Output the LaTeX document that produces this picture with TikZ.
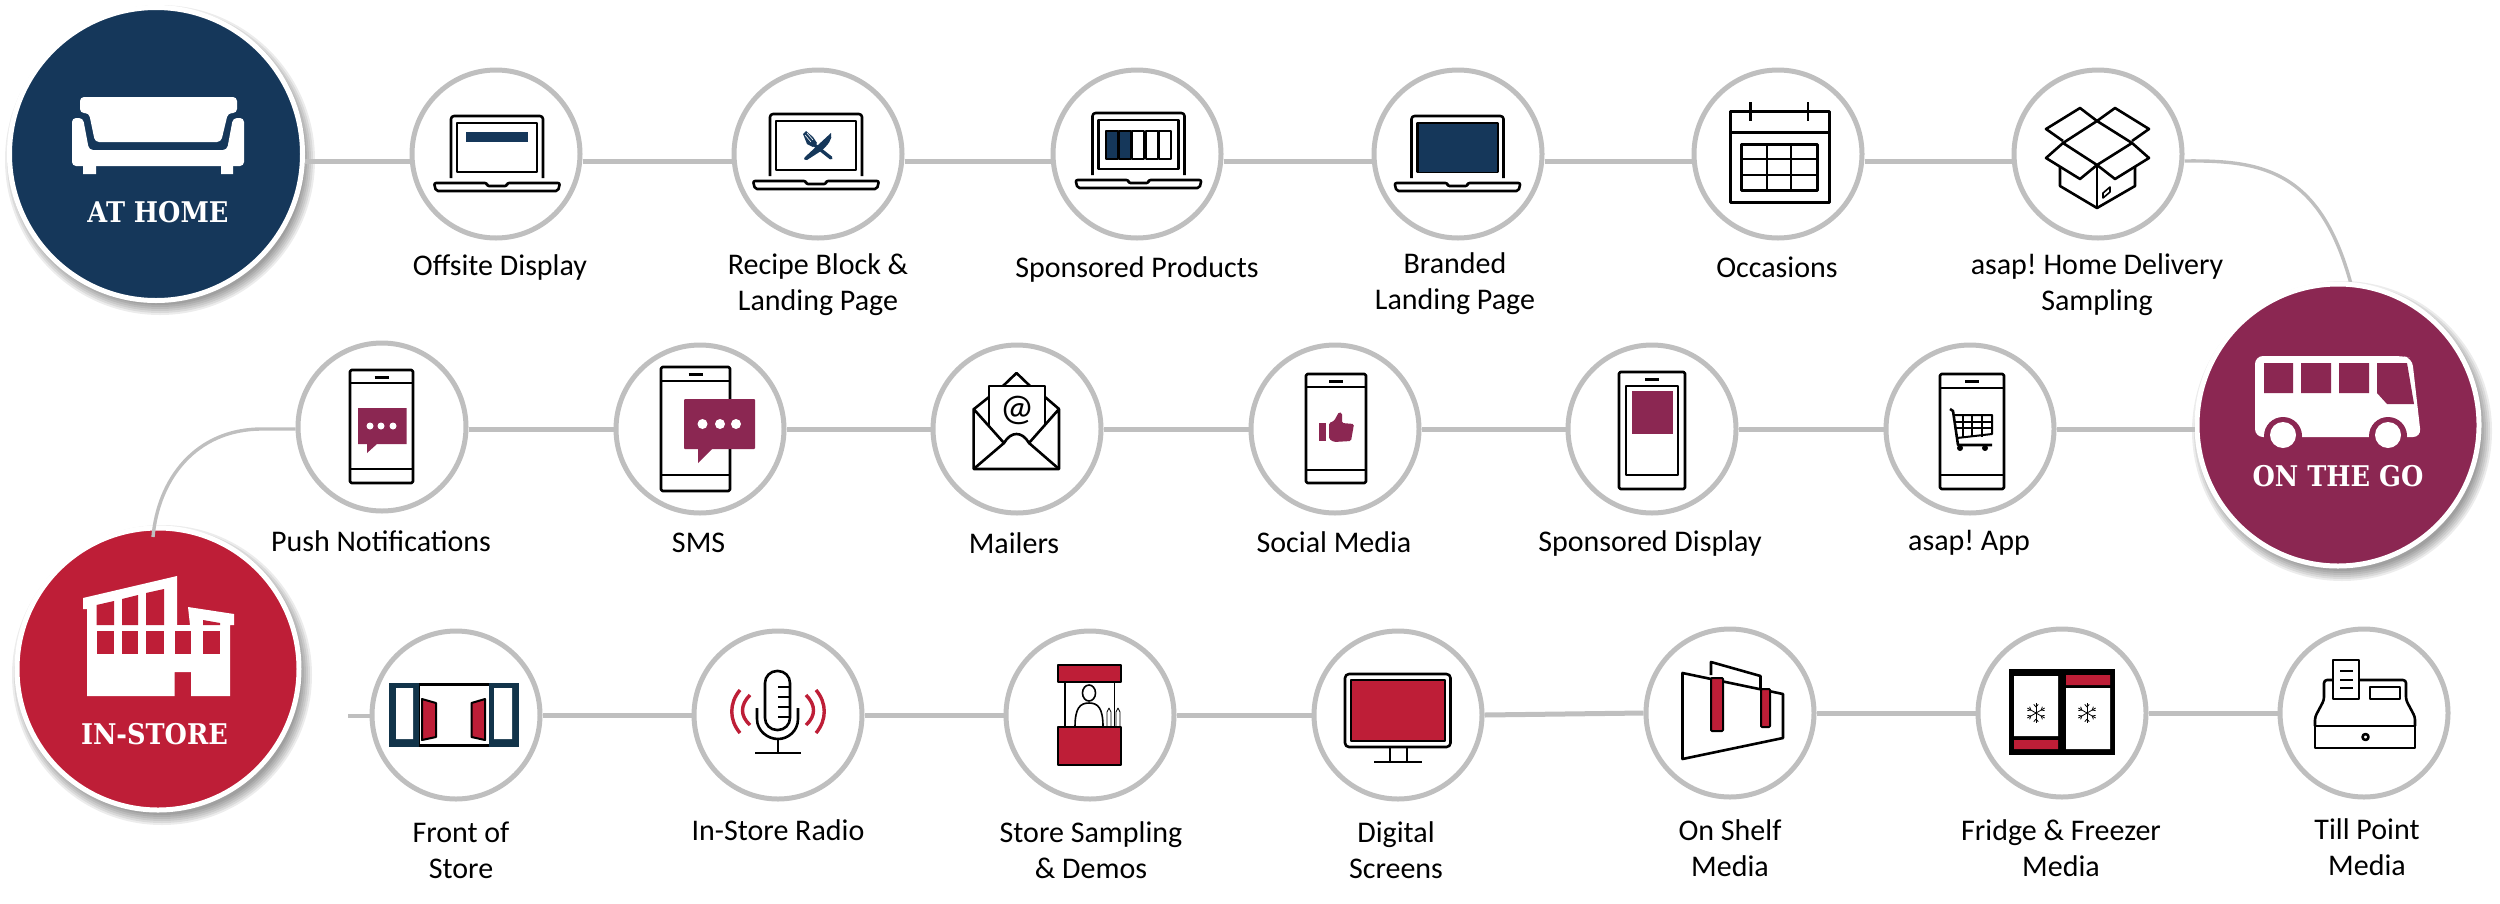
\documentclass[tikz,border=0pt]{standalone}
\usepackage{fontspec}
\setmainfont{Carlito}
\newfontfamily\slabfont[FakeStretch=0.9]{DejaVu Serif}
\definecolor{navyblue}{HTML}{15375A}
\definecolor{plum}{HTML}{8B2752}
\definecolor{shopred}{HTML}{BE1E37}
\definecolor{doorblue}{HTML}{12344A}
\definecolor{ringgrey}{HTML}{BFBFBF}
\tikzset{
 spot/.style={circle,draw=ringgrey,fill=white,line width=5pt,minimum size=168pt,inner sep=0pt},
 hub/.style={circle,draw=white,line width=5pt,minimum size=282pt,inner sep=0pt},
 link/.style={draw=ringgrey,line width=5pt},
 thinlink/.style={draw=ringgrey,line width=3.4pt},
 caption/.style={align=center,inner sep=0pt,font=\frenchspacing\fontsize{30}{36}\selectfont},
 hubtext/.style={text=white,inner sep=0pt,font=\slabfont\bfseries\fontsize{28.5}{30}\selectfont},
 iconline/.style={line width=2.6pt,line join=round},
}
\newcommand{\laptop}[3]{
\begin{scope}[shift={(#1,#2)},iconline]
\draw[rounded corners=3pt] (-46,62)--(-46,0)--(46,0)--(46,62);
\draw (-40,7) rectangle (40,56);
\draw[rounded corners=2pt] (-63,67)--(-10,67)--(-10,70)--(10,70)--(10,67)--(63,67)--(61,75)--(-61,75)--cycle;
#3
\end{scope}}
\newcommand{\handset}[6]{
\begin{scope}[shift={(#1,#2)},iconline]
\draw[rounded corners=1.5pt] (-#3,0) rectangle (#3,#4);
\draw (-#3,#5)--(#3,#5);\draw (-#3,#6)--(#3,#6);
\draw[line width=3pt] (-7,7)--(7,7);
\end{scope}}
\newcommand{\flake}[2]{
\begin{scope}[shift={(#1,#2)},line width=.8pt]
\foreach \a in {30,90,...,330}{
 \draw (0,0)--(\a:10);
 \draw (\a:6)--++(\a+40:3.5);\draw (\a:6)--++(\a-40:3.5);
}
\end{scope}}
\newcommand{\hubshadow}[3]{
\foreach \d in {0,2,...,10} \fill[black,opacity=.075] (#1+4,#2+6) circle (#3-3+\d);}
\begin{document}
\begin{tikzpicture}[x=1pt,y=-1pt]
\useasboundingbox (0,0) rectangle (2500,903);
\hubshadow{156}{154}{148}
\hubshadow{2338}{425}{143}
\hubshadow{158}{669}{143}
\node[spot] (offsite) at (496,154) {};
\node[spot] (recipe) at (818,154) {};
\node[spot] (products) at (1137,154) {};
\node[spot] (branded) at (1458,154) {};
\node[spot] (occasions) at (1778,154) {};
\node[spot] (delivery) at (2098,154) {};
\node[spot] (push) at (382,427) {};
\node[spot] (sms) at (700,429) {};
\node[spot] (mailers) at (1017,429) {};
\node[spot] (social) at (1335,429) {};
\node[spot] (display) at (1652,429) {};
\node[spot] (app) at (1970,429) {};
\node[spot] (front) at (456,715) {};
\node[spot] (radio) at (778,715) {};
\node[spot] (sampling) at (1090,715) {};
\node[spot] (screens) at (1398,715) {};
\node[spot] (shelf) at (1730,713) {};
\node[spot] (fridge) at (2062,713) {};
\node[spot] (till) at (2364,713) {};
\coordinate (stub) at (348,716);
\coordinate (curveA) at (2351,284);
\foreach \a/\b in {offsite/recipe,recipe/products,products/branded,branded/occasions,occasions/delivery}
 \draw[link] ([yshift=-7pt]\a.east)--([yshift=-7pt]\b.west);
\foreach \a/\b in {sms/mailers,mailers/social,social/display,display/app}
 \draw[link] (\a.east)--(\b.west);
\draw[link] ([yshift=-2pt]push.east)--(sms.west);
\foreach \a/\b in {front/radio,radio/sampling,sampling/screens,screens/shelf,shelf/fridge,fridge/till}
 \draw[link] (\a.east)--(\b.west);
\draw[link,line width=4pt] (stub)--(front.west |- stub);
\draw[thinlink] ([yshift=-7pt]delivery.east) .. controls (2262,160) and (2320,170) .. (curveA);
\node[hub,fill=navyblue,minimum size=293pt] (athome) at (156,154) {};
\node[hub,fill=plum] (onthego) at (2338,425) {};
\node[hub,fill=shopred] (instore) at (158,669) {};
\draw[link] ([yshift=-7pt]athome.east)--([yshift=-7pt]offsite.west);
\draw[link] (app.east)--([yshift=-4pt]onthego.west);
\draw[thinlink] ([yshift=-2pt]push.west) -- (262,429) .. controls (195,429) and (158,480) .. (153,537);
% hub pictures
\fill[white,rounded corners=4pt] (72,166)--(72,118)--(83,118)--(89,150)--(227,150)--(233,118)--(244,118)--(244,166)--cycle;
\fill[white] (83,166) rectangle (96,174) (221,166) rectangle (233,174);
\fill[white,rounded corners=4pt] (80,113)--(80,97)--(237,97)--(237,113)--(228,113)--(221,142)--(95,142)--(89,113)--cycle;
\fill[white,rounded corners=8pt] (2255,356)--(2402,356)--(2412,358)--(2421,437)--(2255,437)--cycle;
\fill[plum] (2264,363) rectangle (2293,393) (2301,363) rectangle (2331,393) (2339,363) rectangle (2369,393);
\fill[plum] (2377,363)--(2407,363)--(2414,404)--(2387,404)--(2377,393)--cycle;
\foreach \x in {2283,2388}{\fill[plum] (\x,436) circle (19);\fill[white] (\x,435) circle (13);}
\fill[white] (83,598)--(177,576)--(177,625)--(190,625)--(188,607)--(234,614)--(234,625)--(230,625)--(230,696)--(191,696)--(191,672)--(174.5,672)--(174.5,696)--(87,696)--(87,609)--(83,609)--cycle;
\fill[shopred] (96.5,605)--(114,601)--(114,625)--(96.5,625)--cycle (122,599)--(138,595)--(138,625)--(122,625)--cycle (146,593)--(164,589)--(164,625)--(146,625)--cycle (203,620)--(220,623)--(220,625)--(203,625)--cycle;
\foreach \x/\w in {96.5/17.5,122/16,146/18,174.5/16.5,203/17} \fill[shopred] (\x,631) rectangle (\x+\w,654);
\node[hubtext] (athometext) at (158,212) {AT HOME};
\node[hubtext] (onthegotext) at (2338,476) {ON THE GO};
\node[hubtext] (instoretext) at (154.5,734) {IN-STORE};
% laptops
\laptop{497}{116}{\fill[navyblue] (-31,16) rectangle (31,26);}
\laptop{816}{114}{
 \fill[navyblue] (15,19) .. controls (17,25) and (12,31) .. (5,37)--(-9,46) .. controls (-11,47) and (-13,45) .. (-11,43)--cycle;
 \draw[navyblue,line width=3.4pt,line cap=round] (-4,29)--(15,44);
 \fill[navyblue] (-13,20)--(-10,17)--(-3,23)--(1,29)--(-3,33)--(-9,30)--cycle;
 \draw[white,line width=.6pt] (-11,21)--(-5,28) (-9,19)--(-3,26);
}
\laptop{1138.5}{113}{
 \foreach \i/\c in {0/navyblue,1/navyblue,2/white,3/white,4/white}
  \draw[line width=2pt,fill=\c] (-32.5+13.2*\i,18) rectangle (-20.5+13.2*\i,46);
}
\laptop{1457.5}{116}{\fill[navyblue] (-39,7.5) rectangle (39,55.5);}
% calendar
\begin{scope}[iconline]
\draw[line width=3pt] (1730,111) rectangle (1829,202);
\draw[line width=3pt] (1730,132)--(1829,132);
\draw (1750.5,102)--(1750.5,121) (1808,102)--(1808,121);
\draw[line width=3pt] (1741,144) rectangle (1817,190);
\draw (1741,159)--(1817,159) (1741,175)--(1817,175) (1767,144)--(1767,190) (1791,144)--(1791,190);
\end{scope}
% box
\begin{scope}[iconline]
\draw (2063,141)--(2046,129)--(2080,108)--(2097,121)--(2115,108)--(2149,129)--(2132,141);
\draw (2097,121)--(2132,143)--(2097,165)--(2063,143)--cycle;
\draw (2063,143)--(2046,158)--(2080,179)--(2097,165)--(2115,179)--(2149,158)--(2132,143);
\draw (2060,167)--(2060,186)--(2097,208)--(2135,186)--(2135,167);
\draw (2097,165)--(2097,208);
\draw[line width=1.6pt] (2110,187)--(2103,193)--(2103,198)--(2110,192)--cycle;
\end{scope}
% phones
\handset{381.5}{370}{31.5}{113}{13}{99}
\fill[plum] (358,408) rectangle (406.5,444) (367,444)--(367,453)--(377,444)--cycle;
\foreach \x in {370,381,393} \fill[white] (\x,426) circle (3.5);
\handset{695.5}{367}{34.5}{124}{14}{108}
\fill[plum,rounded corners=1pt] (684,399) rectangle (755,449);
\fill[plum] (698,449)--(698,463)--(712,449)--cycle;
\foreach \x in {702.5,720,736} \fill[white] (\x,424) circle (5);
\handset{1336}{374}{30}{109}{13}{96}
\fill[plum] (1319,423) rectangle (1326,441);
\fill[plum,rounded corners=1.5pt] (1329,423)--(1334,421)--(1339,412)--(1342,413)--(1342,423)--(1354,424)--(1351,441)--(1334,442)--(1329,439)--cycle;
\handset{1652}{372}{33}{117}{0}{0}
\fill[white] (1625,386) rectangle (1679,475);
\draw[iconline] (1626,386) rectangle (1678,475);
\fill[plum] (1631.5,391) rectangle (1673,434);
\handset{1972}{374}{32}{115}{14}{101}
\begin{scope}[line join=round]
\draw[line width=2.6pt] (1950,409)--(1953,411)--(1958,445)--(1992,445);
\draw[line width=2pt] (1955,415)--(1992,415)--(1992,434)--(1957,438);
\foreach \x in {1963,1972,1982} \draw[line width=1.8pt] (\x,415)--(\x,437);
\foreach \y in {422,428} \draw[line width=1.8pt] (1956,\y)--(1992,\y);
\fill (1960,448) circle (3) (1985,448) circle (3);
\end{scope}
% envelope
\begin{scope}[iconline]
\draw (974,409)--(989,397) (1059,409)--(1045,397) (1003,386)--(1016.5,373)--(1030,386);
\draw (989,425)--(989,386)--(1045,386)--(1045,425);
\draw (973.6,409)--(973.6,469)--(1059,469)--(1059,409)--(1029,443) .. controls (1022,431) and (1011,431) .. (1004,443)--cycle;
\draw (973.6,469)--(1004,443) (1059,469)--(1029,443);
\node[inner sep=0pt,font=\fontsize{38}{38}\selectfont] (attext) at (1017,410) {@};
\end{scope}
% store front
\fill[doorblue] (389,683) rectangle (519,747);
\fill[white] (396,688) rectangle (413,739) (494,688) rectangle (512,739);
\fill[black] (419,683) rectangle (489,747);
\fill[white] (419.5,686) rectangle (488.5,744);
\draw[iconline,fill=shopred,line width=2pt] (422,699)--(436,703)--(436,737)--(422,740)--cycle;
\draw[iconline,fill=shopred,line width=2pt] (485,699)--(471.5,703)--(471.5,737)--(485,740)--cycle;
% microphone
\begin{scope}[iconline]
\draw[rounded corners=12pt] (765,730) rectangle (790,671);
\foreach \y in {687,697,707,717} \draw (778,\y)--(790,\y);
\draw (757,708)--(757,719) .. controls (757,731) and (768,739) .. (778,739) .. controls (788,739) and (798,731) .. (798,719)--(798,708);
\draw (778,739)--(778,753) (755,753)--(800.5,753);
\draw[shopred,line width=3.4pt] (740,690) .. controls (729,703) and (729,720) .. (740,733);
\draw[shopred,line width=3.4pt] (750,695) .. controls (740,705) and (740,716) .. (750,725);
\draw[shopred,line width=3.4pt] (816,690) .. controls (827,703) and (827,720) .. (816,733);
\draw[shopred,line width=3.4pt] (806,695) .. controls (816,705) and (816,716) .. (806,725);
\end{scope}
% sampling stand
\begin{scope}[line width=1.6pt,line join=round]
\draw (1065,682)--(1065,727) (1114.5,682)--(1114.5,727);
\draw (1089,693) ellipse (6.5 and 8);
\draw (1075,727) .. controls (1075,708) and (1080,703) .. (1089,703) .. controls (1098,703) and (1103,708) .. (1103,727);
\draw[line width=.8pt] (1107,727)--(1107,712)--(1109,708)--(1111,712)--(1111,727)--cycle (1116,727)--(1116,712)--(1118,708)--(1120,712)--(1120,727)--cycle;
\draw[fill=shopred,line width=2pt] (1057.6,665) rectangle (1121,682);
\draw[fill=shopred,line width=2pt] (1057.6,727) rectangle (1121,765);
\end{scope}
% monitor
\begin{scope}[iconline]
\draw[rounded corners=4pt] (1345,674) rectangle (1450.5,747);
\draw[fill=shopred] (1351,680) rectangle (1445,741);
\draw (1390,747)--(1390,762) (1407,747)--(1407,762) (1374,762)--(1422,762);
\end{scope}
% shelf
\begin{scope}[iconline]
\draw (1711,675)--(1711,662)--(1760.5,676)--(1760.5,689);
\draw (1682.5,673)--(1783,694)--(1783,738)--(1682.5,759)--cycle;
\draw[fill=shopred,line width=2pt,rounded corners=1pt] (1711,678) rectangle (1723,731);
\draw[fill=shopred,line width=2pt,rounded corners=1pt] (1761,689) rectangle (1770,727);
\end{scope}
% fridge
\fill[black] (2009,669) rectangle (2115,755);
\fill[white] (2014,676) rectangle (2058,736) (2066,688) rectangle (2110,749);
\fill[shopred] (2014,740) rectangle (2058,749) (2066,675) rectangle (2110,685);
\flake{2036}{713}
\flake{2087}{713}
% till
\begin{scope}[iconline]
\draw (2315,726) rectangle (2415,748);
\draw[rounded corners=3pt] (2315,726)--(2315,717)--(2324,700)--(2324,680)--(2406,680)--(2406,700)--(2415,717)--(2415,726);
\draw[fill=white] (2333,660) rectangle (2359,699);
\draw (2340,671)--(2353,671) (2340,680)--(2353,680) (2340,688)--(2353,688);
\draw (2370,687) rectangle (2400,699);
\draw (2365.5,737) circle (3);
\end{scope}
% captions
\node[caption] (offsitetext) at (500,267) {Offsite Display};
\node[caption] (recipetext) at (818,285) {Recipe Block \&\\Landing Page};
\node[caption] (productstext) at (1137,269) {Sponsored Products};
\node[caption] (brandedtext) at (1455,284) {Branded\\Landing Page};
\node[caption] (occasionstext) at (1777,267) {Occasions};
\node[caption] (deliverytext) at (2097,284.5) {asap! Home Delivery\\Sampling};
\node[caption] (pushtext) at (381,541) {Push Notifications};
\node[caption] (smstext) at (698.6,543) {SMS};
\node[caption] (mailerstext) at (1014,543) {Mailers};
\node[caption] (socialtext) at (1334,542) {Social Media};
\node[caption] (displaytext) at (1650,543) {Sponsored Display};
\node[caption] (apptext) at (1969,543) {asap! App};
\node[caption] (fronttext) at (461,850) {Front of\\Store};
\node[caption] (radiotext) at (778,830) {In-Store Radio};
\node[caption] (samplingtext) at (1091,850) {Store Sampling\\\& Demos};
\node[caption] (screenstext) at (1396,850) {Digital\\Screens};
\node[caption] (shelftext) at (1730,848) {On Shelf\\Media};
\node[caption] (fridgetext) at (2061,848) {Fridge \& Freezer\\Media};
\node[caption] (tilltext) at (2367,847) {Till Point\\Media};
\end{tikzpicture}
\end{document}
